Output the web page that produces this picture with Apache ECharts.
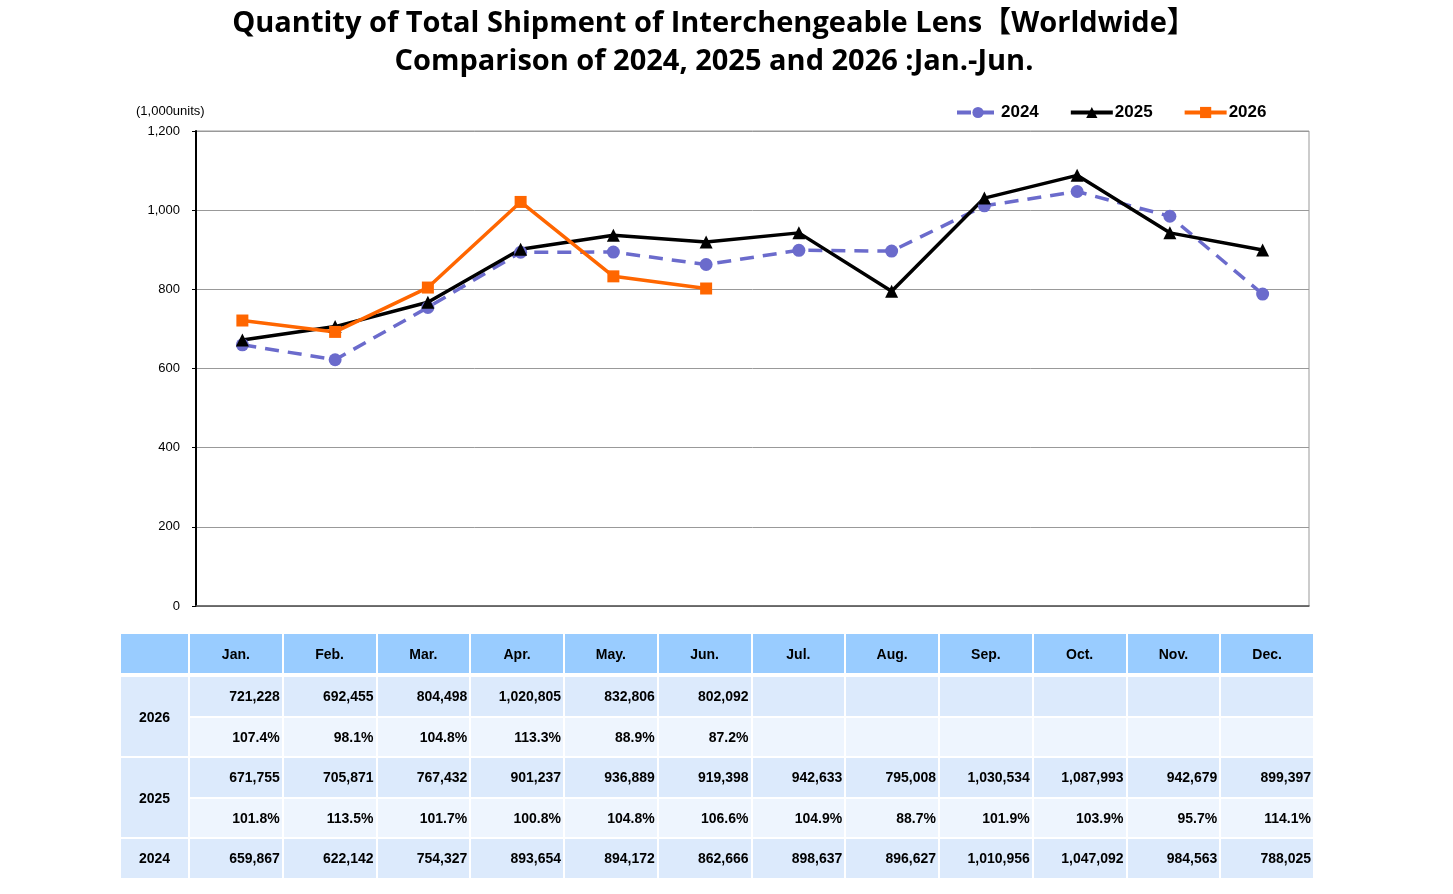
<!DOCTYPE html>
<html>
<head>
<meta charset="utf-8">
<script src="https://cdn.jsdelivr.net/npm/echarts@6/dist/echarts.min.js"></script>
<style>
  html, body { margin: 0; padding: 0; background: #fff; }
  #chart { position: absolute; left: 0; top: 0; width: 1453px; height: 894px; }
  #tbl {
    position: absolute; left: 119px; top: 632px; width: 1196px;
    table-layout: fixed; border-collapse: separate; border-spacing: 2px;
    font-family: "Liberation Sans", Arial, sans-serif; font-weight: bold; font-size: 14px; color: #000;
  }
  #tbl td { padding: 0 2px 0 0; height: 38.5px; text-align: right; background: #DCEAFC; }
  #tbl tr.head td { background: #99CCFF; text-align: center; height: 39px; border-bottom: 2px solid #fff; padding: 0; }
  #tbl td.year { text-align: center; padding: 0; }
  #tbl tr.pct td { background: #EEF5FE; }
  #tbl tr.pct td.year { background: #DCEAFC; }
</style>
</head>
<body>
<div id="chart"></div>
<table id="tbl"></table>
<script>
// 月
const months = ['Jan.', 'Feb.', 'Mar.', 'Apr.', 'May.', 'Jun.', 'Jul.', 'Aug.', 'Sep.', 'Oct.', 'Nov.', 'Dec.'];

// 出荷数量 (units)
const data2024 = [659867, 622142, 754327, 893654, 894172, 862666, 898637, 896627, 1010956, 1047092, 984563, 788025];
const data2025 = [671755, 705871, 767432, 901237, 936889, 919398, 942633, 795008, 1030534, 1087993, 942679, 899397];
const data2026 = [721228, 692455, 804498, 1020805, 832806, 802092];

// 前年比 (%)
const pct2025 = ['101.8%', '113.5%', '101.7%', '100.8%', '104.8%', '106.6%', '104.9%', '88.7%', '101.9%', '103.9%', '95.7%', '114.1%'];
const pct2026 = ['107.4%', '98.1%', '104.8%', '113.3%', '88.9%', '87.2%'];

// y軸
const yMin = 0, yMax = 1200000, yStep = 200000;

const fmt = v => v.toLocaleString('en-US');

// 表
function buildTable() {
  const cells = (arr) => months.map((m, i) => '<td>' + (arr[i] !== undefined ? arr[i] : '') + '</td>').join('');
  let html = '<colgroup><col style="width:67px">' + months.map(() => '<col>').join('') + '</colgroup>';
  html += '<tr class="head"><td></td>' + months.map(m => '<td>' + m + '</td>').join('') + '</tr>';
  html += '<tr><td class="year" rowspan="2">2026</td>' + cells(data2026.map(fmt)) + '</tr>';
  html += '<tr class="pct">' + cells(pct2026) + '</tr>';
  html += '<tr><td class="year" rowspan="2">2025</td>' + cells(data2025.map(fmt)) + '</tr>';
  html += '<tr class="pct">' + cells(pct2025) + '</tr>';
  html += '<tr><td class="year">2024</td>' + cells(data2024.map(fmt)) + '</tr>';
  document.getElementById('tbl').innerHTML = html;
}
buildTable();

const chart = echarts.init(document.getElementById('chart'));

const option = {
  animation: false,
  title: {
    text: 'Quantity of Total Shipment of Interchengeable Lens【Worldwide】\nComparison of 2024, 2025 and 2026 :Jan.-Jun.',
    left: 709,
    top: 0,
    textAlign: 'center',
    textStyle: {
      fontFamily: '"Open Sans", "Noto Sans CJK JP", sans-serif',
      fontSize: 29,
      fontWeight: 'bold',
      lineHeight: 38,
      color: '#000'
    }
  },
  graphic: [{
    type: 'text',
    left: 136,
    top: 105,
    style: {
      text: '(1,000units)',
      font: '13px "Liberation Sans", Arial, sans-serif',
      fill: '#000'
    }
  }],
  legend: {
    left: 950,
    top: 99,
    itemWidth: 42,
    itemHeight: 14,
    itemGap: 30,
    lineStyle: { width: 4 },
    textStyle: {
      fontFamily: '"Liberation Sans", Arial, sans-serif',
      fontSize: 17,
      fontWeight: 'bold',
      color: '#000',
      padding: [0, 0, 0, -3]
    },
    data: ['2024', '2025', '2026']
  },
  grid: {
    left: 196,
    right: 144,
    top: 131,
    bottom: 288,
    show: true,
    borderColor: '#999',
    borderWidth: 1
  },
  xAxis: {
    type: 'category',
    data: months,
    boundaryGap: true,
    axisLine: { lineStyle: { color: '#555', width: 1.5 } },
    axisTick: { show: false },
    axisLabel: { show: false }
  },
  yAxis: {
    type: 'value',
    min: yMin,
    max: yMax,
    interval: yStep,
    axisLine: { show: true, lineStyle: { color: '#000', width: 2 } },
    axisTick: { show: true, length: 4, lineStyle: { color: '#000' } },
    axisLabel: {
      margin: 16,
      fontFamily: '"Liberation Sans", Arial, sans-serif',
      fontSize: 13,
      color: '#000',
      formatter: v => fmt(v / 1000)
    },
    splitLine: { lineStyle: { color: '#999', width: 1 } }
  },
  series: [
    {
      name: '2024',
      type: 'line',
      data: data2024,
      symbol: 'circle',
      symbolSize: 13,
      itemStyle: { color: '#6B6BCC' },
      lineStyle: { color: '#6B6BCC', width: 3.5, type: [14, 9] }
    },
    {
      name: '2025',
      type: 'line',
      data: data2025,
      symbol: 'triangle',
      symbolSize: 13,
      itemStyle: { color: '#000' },
      lineStyle: { color: '#000', width: 3.5 }
    },
    {
      name: '2026',
      type: 'line',
      data: data2026,
      symbol: 'rect',
      symbolSize: 12,
      itemStyle: { color: '#FF6600' },
      lineStyle: { color: '#FF6600', width: 3.5 }
    }
  ]
};

chart.setOption(option);
</script>
</body>
</html>
